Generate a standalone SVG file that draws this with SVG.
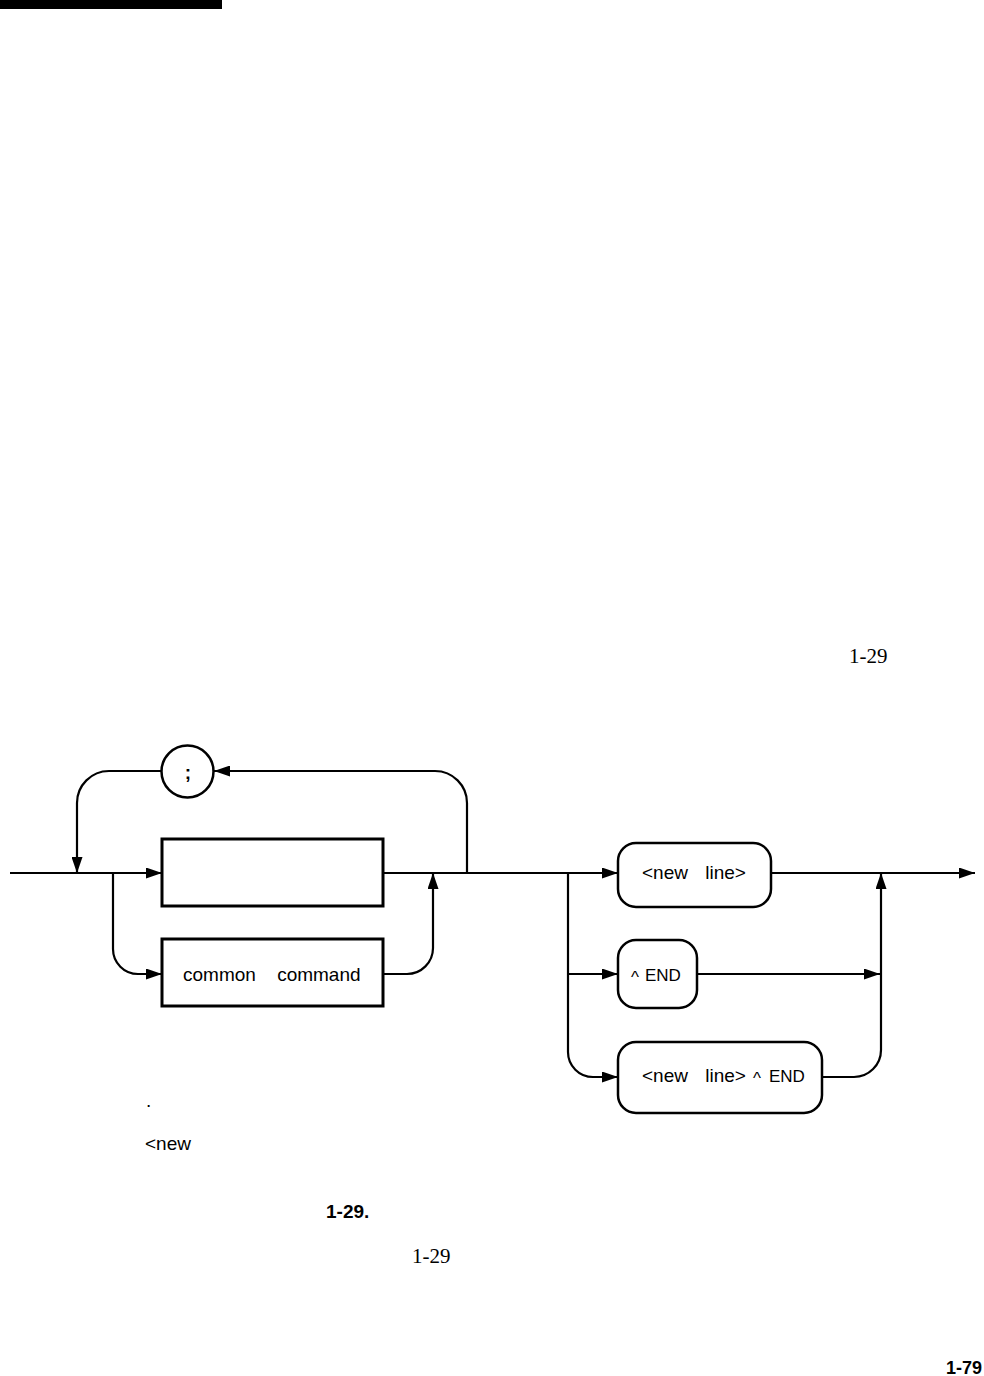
<svg xmlns="http://www.w3.org/2000/svg" width="984" height="1376" viewBox="0 0 984 1376">
<style>
.ln{fill:none;stroke:#000;stroke-width:2.2}
.box{fill:#fff;stroke:#000;stroke-width:3}
.rbox{fill:#fff;stroke:#000;stroke-width:2.5}
.lbl{font-family:"Liberation Sans",Arial,sans-serif;font-size:19px;fill:#000}
.cap{font-family:"Liberation Sans",Arial,sans-serif;font-size:17px;fill:#000}
.serif{font-family:"Liberation Serif","Times New Roman",serif;fill:#000}
.bold{font-family:"Liberation Sans",Arial,sans-serif;font-weight:bold;fill:#000}
</style>
<defs>
<marker id="ah" markerUnits="userSpaceOnUse" markerWidth="17" markerHeight="11" refX="16" refY="5.5" orient="auto">
<path d="M0,0 L16,5.5 L0,11 z" fill="#000"/>
</marker>
</defs>
<rect x="0" y="0" width="222" height="9" fill="#000"/>
<text class="serif" x="849" y="663" font-size="21">1-29</text>
<g id="connectors">
<path class="ln" d="M10,873 H162" marker-end="url(#ah)"/>
<path class="ln" d="M467,873 V803 A32,32 0 0 0 435,771 H214" marker-end="url(#ah)"/>
<path class="ln" d="M161.5,771 H109 A32,32 0 0 0 77,803 V873" marker-end="url(#ah)"/>
<path class="ln" d="M113,873 V949 A25,25 0 0 0 138,974 H162" marker-end="url(#ah)"/>
<path class="ln" d="M383,873 H618" marker-end="url(#ah)"/>
<path class="ln" d="M383,974 H407 A26,26 0 0 0 433,948 V873" marker-end="url(#ah)"/>
<path class="ln" d="M568,873 V1052 A25,25 0 0 0 593,1077 H618" marker-end="url(#ah)"/>
<path class="ln" d="M568,974 H618" marker-end="url(#ah)"/>
<path class="ln" d="M771,873 H975" marker-end="url(#ah)"/>
<path class="ln" d="M697,974 H880" marker-end="url(#ah)"/>
<path class="ln" d="M822,1077 H854 A27,27 0 0 0 881,1050 V873" marker-end="url(#ah)"/>
</g>
<g id="node-semicolon">
<circle cx="187.5" cy="771.5" r="26" fill="#fff" stroke="#000" stroke-width="2.5"/>
<text class="lbl" x="188" y="779" text-anchor="middle" font-weight="bold" font-size="24">;</text>
</g>
<g id="node-program">
<rect class="box" x="162" y="839" width="221" height="67"/>
</g>
<g id="node-common">
<rect class="box" x="162" y="939" width="221" height="67"/>
<text class="lbl" x="183" y="981" word-spacing="16">common command</text>
</g>
<g id="node-newline">
<rect class="rbox" x="618" y="843" width="153" height="64" rx="18"/>
<text class="lbl" x="642" y="879" word-spacing="12">&lt;new line&gt;</text>
</g>
<g id="node-end">
<rect class="rbox" x="618" y="940" width="79" height="68" rx="18"/>
<text class="cap" x="631" y="983"><tspan font-size="17">^</tspan><tspan x="645" y="981">END</tspan></text>
</g>
<g id="node-newline-end">
<rect class="rbox" x="618" y="1042" width="204" height="71" rx="18"/>
<text class="lbl" x="642" y="1082" word-spacing="12">&lt;new line&gt;</text>
<text class="cap" x="753" y="1084"><tspan font-size="17">^</tspan><tspan x="769" y="1082">END</tspan></text>
</g>
<text class="lbl" x="146" y="1107">.</text>
<text class="lbl" x="145" y="1150">&lt;new</text>
<text class="bold" x="326" y="1218" font-size="19">1-29.</text>
<text class="serif" x="412" y="1263" font-size="21">1-29</text>
<text class="bold" x="982" y="1374" font-size="18" text-anchor="end">1-79</text>
</svg>
